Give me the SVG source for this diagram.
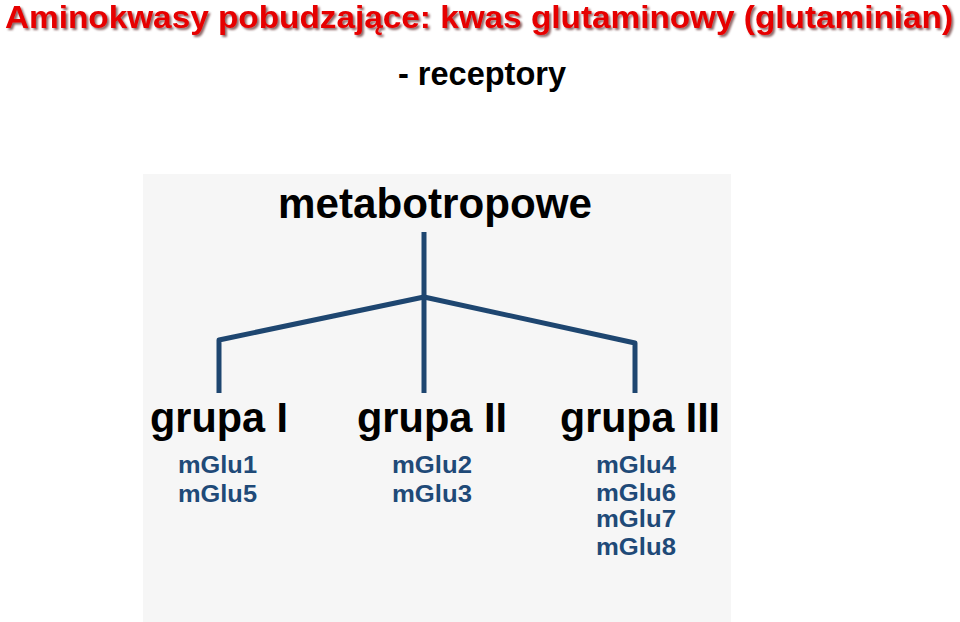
<svg xmlns="http://www.w3.org/2000/svg" width="960" height="622" viewBox="0 0 960 622">
<defs>
<filter id="sh" x="-2%" y="-20%" width="104%" height="150%">
<feDropShadow dx="2" dy="2" stdDeviation="0.8" flood-color="#400000" flood-opacity="0.6"/>
</filter>
<style>
.title{font-family:"Liberation Sans",Arial,sans-serif;font-weight:bold;font-size:31px;fill:#e60000}
.sub{font-family:"Liberation Sans",Arial,sans-serif;font-weight:bold;font-size:33px;fill:#000}
.head{font-family:"Liberation Sans",Arial,sans-serif;font-weight:bold;font-size:43px;fill:#000}
.grp{font-family:"Liberation Sans",Arial,sans-serif;font-weight:bold;font-size:42px;fill:#000}
.mg{font-family:"Liberation Sans",Arial,sans-serif;font-weight:bold;font-size:23px;fill:#1f4a78}
.ln{fill:none;stroke:#1e4670;stroke-width:5;stroke-linejoin:round;stroke-linecap:butt}
</style>
</defs>
<rect width="960" height="622" fill="#ffffff"/>
<g id="title" filter="url(#sh)">
<text class="title" x="5" y="28" textLength="948" lengthAdjust="spacingAndGlyphs">Aminokwasy pobudzające: kwas glutaminowy (glutaminian)</text>
</g>
<text class="sub" x="398" y="85" textLength="168" lengthAdjust="spacingAndGlyphs">- receptory</text>
<rect x="143" y="174" width="588" height="448" fill="#f6f6f6"/>
<g id="connectors">
<line class="ln" x1="424" y1="232" x2="424" y2="393"/>
<polyline class="ln" points="219,393 219,340 424,297 635,343 635,393"/>
</g>
<g id="metabotropowe">
<text class="head" x="278" y="218" textLength="314" lengthAdjust="spacingAndGlyphs">metabotropowe</text>
</g>
<g id="grupa1">
<text class="grp" x="150" y="432" textLength="138" lengthAdjust="spacingAndGlyphs">grupa I</text>
<text class="mg" x="178" y="473" textLength="79" lengthAdjust="spacingAndGlyphs">mGlu1</text>
<text class="mg" x="178" y="502" textLength="79" lengthAdjust="spacingAndGlyphs">mGlu5</text>
</g>
<g id="grupa2">
<text class="grp" x="357" y="432" textLength="150" lengthAdjust="spacingAndGlyphs">grupa II</text>
<text class="mg" x="392" y="473" textLength="80" lengthAdjust="spacingAndGlyphs">mGlu2</text>
<text class="mg" x="392" y="502" textLength="80" lengthAdjust="spacingAndGlyphs">mGlu3</text>
</g>
<g id="grupa3">
<text class="grp" x="560" y="432" textLength="160" lengthAdjust="spacingAndGlyphs">grupa III</text>
<text class="mg" x="596" y="473" textLength="80" lengthAdjust="spacingAndGlyphs">mGlu4</text>
<text class="mg" x="596" y="501" textLength="80" lengthAdjust="spacingAndGlyphs">mGlu6</text>
<text class="mg" x="596" y="527" textLength="80" lengthAdjust="spacingAndGlyphs">mGlu7</text>
<text class="mg" x="596" y="555" textLength="80" lengthAdjust="spacingAndGlyphs">mGlu8</text>
</g>
</svg>
